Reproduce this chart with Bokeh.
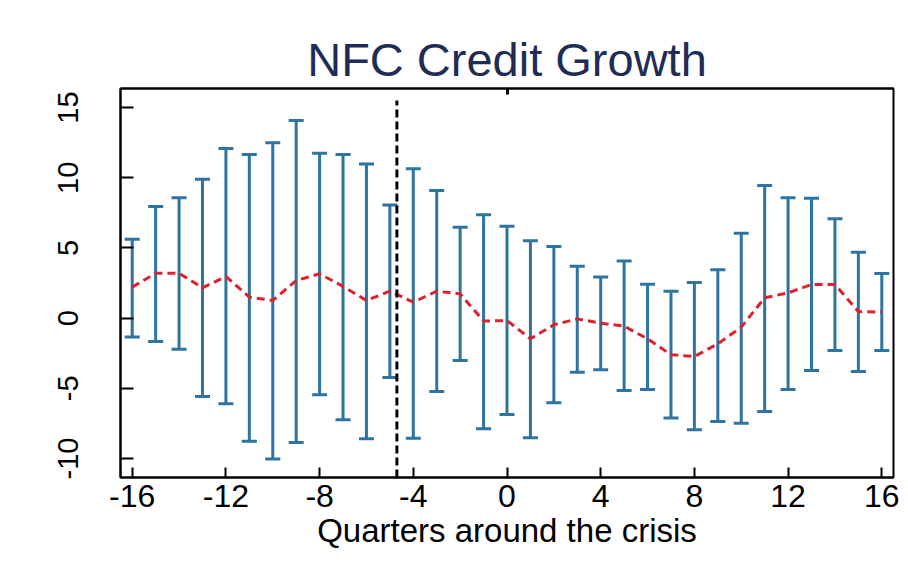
from bokeh.plotting import figure
from bokeh.models import ColumnDataSource, Whisker, TeeHead, FixedTicker, LinearAxis
from bokeh.embed import file_html
from bokeh.resources import INLINE

# ---- data ----
quarters = list(range(-16, 17))
upper = [5.63, 7.95, 8.57, 9.9, 12.08, 11.66, 12.49, 14.08, 11.75, 11.66, 10.99,
         8.07, 10.64, 9.09, 6.48, 7.36, 6.54, 5.51, 5.1, 3.7, 2.94, 4.08, 2.42,
         1.92, 2.54, 3.44, 6.05, 9.45, 8.57, 8.55, 7.08, 4.7, 3.18]
lower = [-1.35, -1.66, -2.21, -5.58, -6.1, -8.76, -10.04, -8.86, -5.46, -7.24, -8.59,
         -4.23, -8.55, -5.22, -3.02, -7.88, -6.86, -8.52, -6.03, -3.85, -3.68, -5.15,
         -5.08, -7.12, -7.95, -7.36, -7.48, -6.65, -5.08, -3.73, -2.3, -3.8, -2.3]
mean = [2.21, 3.2, 3.2, 2.16, 2.97, 1.5, 1.26, 2.68, 3.16, 2.26, 1.26, 1.92, 1.14,
        1.92, 1.73, -0.21, -0.17, -1.47, -0.47, -0.05, -0.36, -0.57, -1.47, -2.61,
        -2.73, -1.83, -0.64, 1.45, 1.8, 2.4, 2.4, 0.47, 0.43]
crisis_x = -4.7
crisis_top = 15.5
x_ticks = [-16, -12, -8, -4, 0, 4, 8, 12, 16]
y_ticks = [-10, -5, 0, 5, 10, 15]
x_range = (-16.5, 16.5)
y_range = (-11.35, 16.36)

BLUE = "#2e74a0"
RED = "#e0202c"
NAVY = "#1f2d56"
FONT = "Liberation Sans"

p = figure(width=908, height=566, x_range=x_range, y_range=y_range,
           output_backend="svg", toolbar_location=None,
           min_border_left=120, min_border_right=15,
           min_border_top=88, min_border_bottom=89,
           background_fill_color="white", border_fill_color="white")

p.title.text = "NFC Credit Growth"
p.title.align = "center"
p.title.text_font = FONT
p.title.text_font_size = "47px"
p.title.text_font_style = "normal"
p.title.text_color = NAVY
p.title.standoff = 6

p.outline_line_color = "black"
p.outline_line_width = 2
p.xgrid.visible = False
p.ygrid.visible = False

xa = p.xaxis[0]
xa.ticker = FixedTicker(ticks=x_ticks)
xa.major_label_overrides = {t: str(t) for t in x_ticks}
xa.axis_label = "Quarters around the crisis"
xa.axis_label_text_font = FONT
xa.axis_label_text_font_size = "33px"
xa.axis_label_text_font_style = "normal"
xa.axis_label_text_color = "black"
xa.axis_label_standoff = 2
xa.major_label_text_font = FONT
xa.major_label_text_font_size = "32px"
xa.major_label_text_color = "black"
xa.major_label_standoff = 7
xa.major_tick_in = 10
xa.major_tick_out = 0
xa.major_tick_line_width = 2
xa.minor_tick_line_color = None
xa.axis_line_width = 2

ya = p.yaxis[0]
ya.ticker = FixedTicker(ticks=y_ticks)
ya.major_label_overrides = {t: str(t) for t in y_ticks}
ya.major_label_orientation = "vertical"
ya.major_label_text_font = FONT
ya.major_label_text_font_size = "29px"
ya.major_label_text_color = "black"
ya.major_label_standoff = 42
ya.major_tick_in = 13
ya.major_tick_out = 0
ya.major_tick_line_width = 2
ya.minor_tick_line_color = None
ya.axis_line_width = 2

top_axis = LinearAxis(ticker=FixedTicker(ticks=[0]), major_tick_in=6, major_tick_out=0,
                      major_tick_line_width=3, minor_tick_line_color=None,
                      major_label_text_alpha=0, major_label_text_font_size="1px",
                      major_label_standoff=0, axis_line_width=2)
p.add_layout(top_axis, "above")

src = ColumnDataSource(data=dict(x=quarters, upper=upper, lower=lower, mean=mean))

w = Whisker(base="x", upper="upper", lower="lower", source=src,
            line_color=BLUE, line_width=3,
            upper_head=TeeHead(size=15, line_color=BLUE, line_width=3),
            lower_head=TeeHead(size=15, line_color=BLUE, line_width=3))
p.add_layout(w)

p.line("x", "mean", source=src, line_color=RED, line_width=3, line_dash="8 5")

p.segment(x0=[crisis_x], y0=[y_range[0]], x1=[crisis_x], y1=[crisis_top],
          line_color="black", line_width=3, line_dash="8 4")

open("out.html", "w").write(file_html(p, INLINE))
